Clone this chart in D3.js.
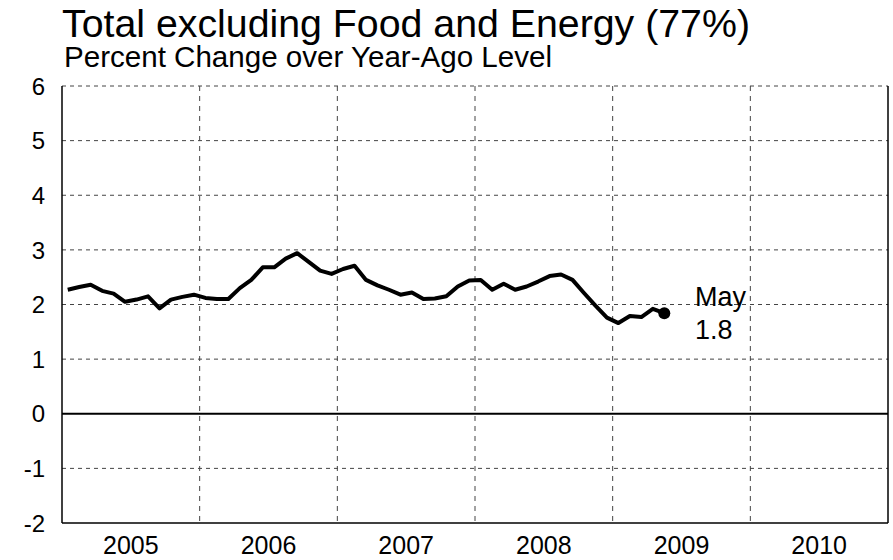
<!DOCTYPE html>
<html><head><meta charset="utf-8">
<script src="https://cdn.jsdelivr.net/npm/d3@7"></script>
<style>body{margin:0;background:#fff}svg{display:block}text{font-family:"Liberation Sans",Arial,sans-serif;fill:#000}</style>
</head><body><svg id="c" width="893" height="560"></svg>
<script>
const title = "Total excluding Food and Energy (77%)";
const subtitle = "Percent Change over Year-Ago Level";
const yearLabels = ["2005","2006","2007","2008","2009","2010"];
const yTicks = [-2,-1,0,1,2,3,4,5,6];
const startYear = 2005;
// monthly values Jan 2005 - May 2009
const values = [2.27,2.32,2.36,2.25,2.20,2.05,2.09,2.15,1.93,2.09,2.14,2.18,
  2.12,2.10,2.10,2.30,2.45,2.68,2.68,2.84,2.94,2.78,2.62,2.56,
  2.65,2.71,2.45,2.35,2.27,2.18,2.22,2.10,2.11,2.15,2.33,2.44,
  2.45,2.27,2.38,2.27,2.33,2.42,2.52,2.55,2.45,2.21,1.98,1.76,
  1.66,1.79,1.77,1.92,1.84];
const lastLabel = ["May","1.8"];

const svg = d3.select("#c");
const L=62,R=888,T=86,B=523;
const x = d3.scaleLinear().domain([2005,2011]).range([L,R]);
const y = d3.scaleLinear().domain([-2,6]).range([B,T]);

svg.append("text").attr("x",62).attr("y",37).attr("font-size",39)
  .attr("textLength",688).attr("lengthAdjust","spacingAndGlyphs").text(title);
svg.append("text").attr("x",64).attr("y",67).attr("font-size",29)
  .attr("textLength",488).attr("lengthAdjust","spacingAndGlyphs").text(subtitle);

// horizontal gridlines
svg.append("g").selectAll("line").data(yTicks.filter(d=>d!==0 && d!==-2)).join("line")
  .attr("x1",L).attr("x2",R).attr("y1",d=>y(d)).attr("y2",d=>y(d))
  .attr("stroke","#444").attr("stroke-width",1).attr("stroke-dasharray","4,4");
// vertical gridlines
svg.append("g").selectAll("line").data(d3.range(2006,2011)).join("line")
  .attr("x1",d=>x(d)).attr("x2",d=>x(d)).attr("y1",T).attr("y2",B)
  .attr("stroke","#444").attr("stroke-width",1).attr("stroke-dasharray","5,5");
// frame
svg.append("line").attr("x1",L).attr("x2",L).attr("y1",T).attr("y2",B).attr("stroke","#000").attr("stroke-width",1.5);
svg.append("line").attr("x1",R).attr("x2",R).attr("y1",T).attr("y2",B).attr("stroke","#000").attr("stroke-width",1.5);
svg.append("line").attr("x1",L).attr("x2",R).attr("y1",B).attr("y2",B).attr("stroke","#000").attr("stroke-width",1.5);
// zero line
svg.append("line").attr("x1",L).attr("x2",R).attr("y1",y(0)).attr("y2",y(0)).attr("stroke","#000").attr("stroke-width",2);

// y tick labels
svg.append("g").selectAll("text").data(yTicks).join("text")
  .attr("x",45).attr("y",d=>y(d)).attr("dy","0.36em").attr("text-anchor","end")
  .attr("font-size",24).text(d=>d);
// year labels
svg.append("g").selectAll("text").data(yearLabels).join("text")
  .attr("x",(d,i)=>x(startYear+i+0.5)).attr("y",554).attr("text-anchor","middle")
  .attr("font-size",25).text(d=>d);

const tx = i => x(startYear + (i+0.5)/12);
svg.append("path").datum(values)
  .attr("d", d3.line().x((d,i)=>tx(i)).y(d=>y(d)))
  .attr("fill","none").attr("stroke","#000").attr("stroke-width",4).attr("stroke-linejoin","round");
const li = values.length-1;
svg.append("circle").attr("cx",tx(li)).attr("cy",y(values[li])).attr("r",6).attr("fill","#000");
svg.append("text").attr("x",695).attr("y",306).attr("font-size",27).text(lastLabel[0]);
svg.append("text").attr("x",695).attr("y",339).attr("font-size",27).text(lastLabel[1]);
</script></body></html>
